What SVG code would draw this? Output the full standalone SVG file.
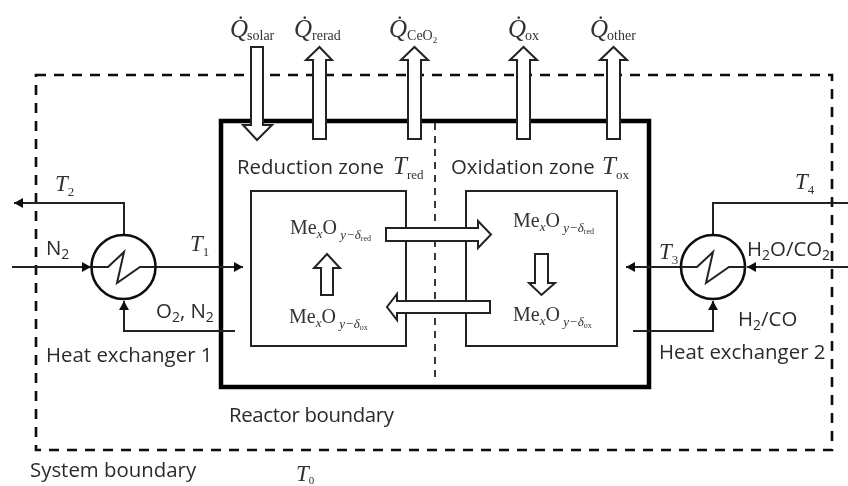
<svg xmlns="http://www.w3.org/2000/svg" width="848" height="486" viewBox="0 0 848 486">
<style>
.s{font-family:"Open Sans","Noto Sans","Liberation Sans",sans-serif;font-size:20.4px;fill:#2b2b2b}
.n{font-size:14px}
.m{font-family:"Liberation Serif",serif;fill:#333}
.i{font-style:italic}
.v{font-size:23px;font-style:italic}
.t{font-size:25px;font-style:italic}
.q{font-size:14px}
.u{font-size:13px}
.me{font-size:20px}
.ln{fill:none;stroke:#222;stroke-width:2}
.bl{fill:none;stroke:#111;stroke-width:2.6}
.fa{fill:#fff;stroke:#222;stroke-width:2}
</style>
<defs>
<marker id="ah" markerUnits="userSpaceOnUse" markerWidth="10" markerHeight="10" refX="9" refY="5" orient="auto"><path d="M0 0L9 5L0 10Z" fill="#111"/></marker>
<filter id="soft" x="-2%" y="-2%" width="104%" height="104%"><feGaussianBlur stdDeviation="0.4"/></filter>
</defs>
<rect width="848" height="486" fill="#fff"/>
<g filter="url(#soft)">
<g id="system-boundary"><rect x="36" y="75" width="796" height="375" fill="none" stroke="#111" stroke-width="2.6" stroke-dasharray="10 8"/></g>
<g id="reactor-boundary"><rect x="221" y="121" width="428" height="266" fill="none" stroke="#000" stroke-width="4.5"/></g>
<line x1="435" y1="123" x2="435" y2="381" stroke="#222" stroke-width="1.8" stroke-dasharray="7 6"/>
<g id="reduction-box"><rect x="251" y="191" width="155" height="155" class="ln"/></g>
<g id="oxidation-box"><rect x="466" y="191" width="151" height="155" class="ln"/></g>
<g id="connectors">
<path class="ln" d="M124 235V203H14" marker-end="url(#ah)"/>
<path class="ln" d="M12 267H91" marker-end="url(#ah)"/>
<path class="ln" d="M156 267H243" marker-end="url(#ah)"/>
<path class="ln" d="M235 331H124V301" marker-end="url(#ah)"/>
<path class="ln" d="M713 235V203H848"/>
<path class="ln" d="M848 267H747" marker-end="url(#ah)"/>
<path class="ln" d="M681 267H626" marker-end="url(#ah)"/>
<path class="ln" d="M633 331H713V301" marker-end="url(#ah)"/>
</g>
<g id="heat-arrows">
<path class="fa" d="M251 47H263V125H272L257 140L243 125H251Z"/>
<path class="fa" d="M313 139V60H306L319.500 47L332 60H326V139Z"/>
<path class="fa" d="M408 139V60H401L414.500 47L428 60H421V139Z"/>
<path class="fa" d="M517 139V60H510L523.500 47L537 60H530V139Z"/>
<path class="fa" d="M607 139V60H600L613.500 47L627 60H620V139Z"/>
</g>
<g id="flow-arrows">
<path class="fa" d="M386 228H478V221L491 234.500L478 248V241H386Z"/>
<path class="fa" d="M490 301V313H397V320L387 307L397 294V301Z"/>
<path class="fa" d="M321 295V268H314L327 254L340 268H333V295Z"/>
<path class="fa" d="M535 254H548V283H555L541.500 295L529 283H535Z"/>
</g>
<g id="heat-exchanger-1"><circle cx="123.500" cy="267" r="32" fill="none" class="bl"/><path class="ln" d="M92 267H108L124 252L117 283L140 267H155"/></g>
<g id="heat-exchanger-2"><circle cx="713" cy="267" r="32" fill="none" class="bl"/><path class="ln" d="M681 267H697L713 252L706 283L729 267H745"/></g>
<g id="labels">
<text class="m" x="230" y="37"><tspan class="t">Q̇</tspan><tspan class="q" dx="-1" dy="3">solar</tspan></text>
<text class="m" x="294" y="37"><tspan class="t">Q̇</tspan><tspan class="q" dx="0" dy="3">rerad</tspan></text>
<text class="m" x="389" y="37"><tspan class="t">Q̇</tspan><tspan class="q" dx="0" dy="3">CeO</tspan><tspan font-size="9" dy="3">2</tspan></text>
<text class="m" x="508" y="37"><tspan class="t">Q̇</tspan><tspan class="q" dx="-1" dy="3">ox</tspan></text>
<text class="m" x="590" y="37"><tspan class="t">Q̇</tspan><tspan class="q" dx="-1" dy="3">other</tspan></text>
<text class="s" x="237" y="174">Reduction zone</text>
<text class="m" x="393" y="174"><tspan class="t">T</tspan><tspan class="u" dy="5">red</tspan></text>
<text class="s" x="451" y="174">Oxidation zone</text>
<text class="m" x="602" y="174"><tspan class="t">T</tspan><tspan class="u" dy="5">ox</tspan></text>
<text class="m" x="55" y="191"><tspan class="v">T</tspan><tspan class="u" dy="5">2</tspan></text>
<text class="m" x="190" y="251"><tspan class="v">T</tspan><tspan class="u" dy="5">1</tspan></text>
<text class="m" x="659" y="259"><tspan class="v">T</tspan><tspan class="u" dy="5">3</tspan></text>
<text class="m" x="795" y="189"><tspan class="v">T</tspan><tspan class="u" dy="5">4</tspan></text>
<text class="m" x="296" y="481"><tspan class="v">T</tspan><tspan font-size="11" dy="3">0</tspan></text>
<text class="s" x="46" y="255">N<tspan class="n" dy="4">2</tspan></text>
<text class="s" x="156" y="318">O<tspan class="n" dy="4">2</tspan><tspan dy="-4">, N</tspan><tspan class="n" dy="4">2</tspan></text>
<text class="s" x="46" y="362">Heat exchanger 1</text>
<text class="s" x="747" y="256">H<tspan class="n" dy="4">2</tspan><tspan dy="-4">O/CO</tspan><tspan class="n" dy="4">2</tspan></text>
<text class="s" x="738" y="326">H<tspan class="n" dy="4">2</tspan><tspan dy="-4">/CO</tspan></text>
<text class="s" x="659" y="359">Heat exchanger 2</text>
<text class="s" x="229" y="422" textLength="165">Reactor boundary</text>
<text class="s" x="30" y="477">System boundary</text>
<text class="m" x="290" y="234"><tspan class="me">Me</tspan><tspan class="i" font-size="13" dy="4">x</tspan><tspan class="me" dy="-4">O</tspan><tspan class="i" font-size="13" dy="5"> y−δ</tspan><tspan font-size="8" dy="2">red</tspan></text>
<text class="m" x="289" y="323"><tspan class="me">Me</tspan><tspan class="i" font-size="13" dy="4">x</tspan><tspan class="me" dy="-4">O</tspan><tspan class="i" font-size="13" dy="5"> y−δ</tspan><tspan font-size="8" dy="2">ox</tspan></text>
<text class="m" x="513" y="227"><tspan class="me">Me</tspan><tspan class="i" font-size="13" dy="4">x</tspan><tspan class="me" dy="-4">O</tspan><tspan class="i" font-size="13" dy="5"> y−δ</tspan><tspan font-size="8" dy="2">red</tspan></text>
<text class="m" x="513" y="321"><tspan class="me">Me</tspan><tspan class="i" font-size="13" dy="4">x</tspan><tspan class="me" dy="-4">O</tspan><tspan class="i" font-size="13" dy="5"> y−δ</tspan><tspan font-size="8" dy="2">ox</tspan></text>
</g>
</g>
</svg>
